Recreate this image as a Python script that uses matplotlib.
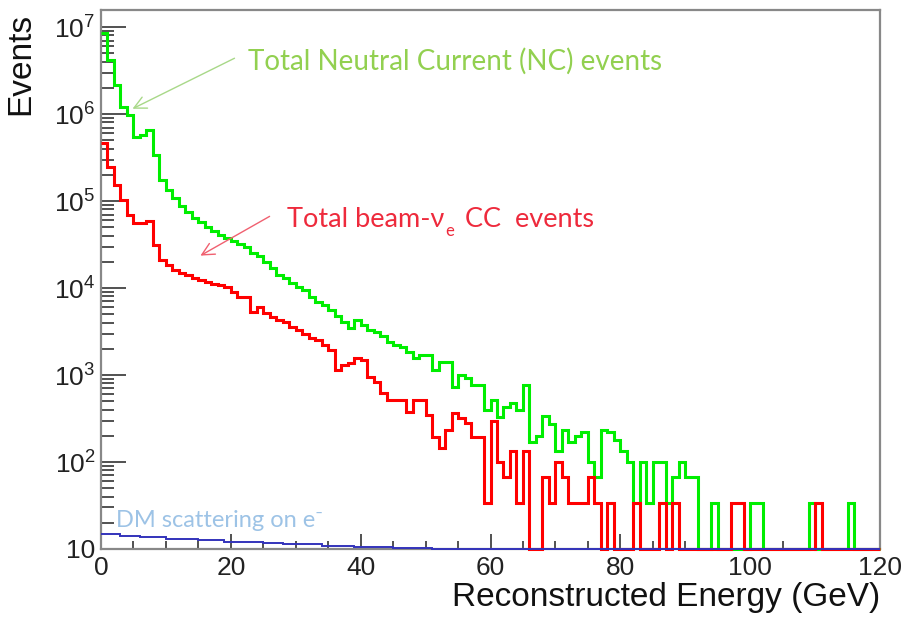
import numpy as np
import matplotlib
matplotlib.use('Agg')
import matplotlib.pyplot as plt
from matplotlib.ticker import FixedLocator, MultipleLocator, FuncFormatter, NullFormatter

# Reconstructed energy binning (1 GeV bins from 0 to 120 GeV)
energy_edges = np.arange(0, 121, 1)

# Total neutral current events per bin
nc_events = [
    8.5e6, 4.2e6, 2.15e6, 1.2e6, 9.7e5, 5.4e5, 5.7e5, 6.5e5, 3.4e5, 1.74e5,
    1.34e5, 1.08e5, 8.8e4, 7.5e4, 6.4e4, 5.7e4, 5.0e4, 4.5e4, 4.1e4, 3.8e4,
    3.5e4, 3.2e4, 2.96e4, 2.52e4, 2.33e4, 1.99e4, 1.70e4, 1.41e4, 1.30e4, 1.14e4,
    1.03e4, 9.5e3, 7.9e3, 6.9e3, 6.4e3, 5.6e3, 4.8e3, 4.1e3, 3.5e3, 4.3e3,
    3.8e3, 3.3e3, 3.1e3, 2.8e3, 2.4e3, 2.2e3, 2.1e3, 1.84e3, 1.57e3, 1.70e3,
    1.70e3, 1.14e3, 1.41e3, 1.41e3, 730, 1000, 920, 770, 770, 400,
    515, 330, 430, 475, 400, 770, 168, 200, 336, 270,
    135, 235, 168, 200, 220, 101, 67, 235, 220, 180,
    134, 101, 34, 101, 34, 101, 101, 34, 67, 101,
    67, 67, 0, 0, 34, 0, 0, 0, 0, 0,
    34, 34, 0, 0, 0, 0, 0, 0, 0, 34,
    0, 0, 0, 0, 0, 34, 0, 0, 0, 0,
]

# Total beam nu_e charged current events per bin
cc_events = [
    4.6e5, 2.46e5, 1.53e5, 1.03e5, 6.9e4, 5.6e4, 5.6e4, 5.9e4, 3.1e4, 2.1e4,
    1.84e4, 1.61e4, 1.49e4, 1.41e4, 1.30e4, 1.24e4, 1.17e4, 1.11e4, 1.08e4, 1.03e4,
    9.0e3, 7.9e3, 7.9e3, 5.3e3, 6.0e3, 5.2e3, 4.6e3, 4.3e3, 4.1e3, 3.6e3,
    3.3e3, 3.0e3, 2.66e3, 2.5e3, 2.2e3, 1.94e3, 1.14e3, 1.30e3, 1.37e3, 1.57e3,
    1.49e3, 950, 830, 620, 515, 515, 515, 375, 515, 515,
    345, 194, 145, 235, 365, 320, 280, 194, 194, 34,
    300, 101, 67, 135, 34, 135, 0, 0, 67, 34,
    101, 67, 34, 34, 34, 67, 34, 0, 34, 0,
    0, 0, 34, 0, 0, 0, 34, 0, 34, 0,
    0, 0, 0, 0, 0, 0, 0, 34, 34, 0,
    0, 0, 0, 0, 0, 0, 0, 0, 0, 0,
    34, 0, 0, 0, 0, 0, 0, 0, 0, 0,
]

# Dark matter scattering on electrons (coarse steps)
dm_edges = [0, 3, 6, 10, 15, 19, 25, 28, 34, 39, 45, 51, 55, 120]
dm_events = [14.9, 14.1, 13.6, 13.0, 12.6, 12.0, 11.6, 11.3, 10.9, 10.6, 10.3, 10.1, 10.0]

x_ticks = [0, 20, 40, 60, 80, 100, 120]
y_ticks = [1e1, 1e2, 1e3, 1e4, 1e5, 1e6, 1e7]
y_min, y_max = 10, 1.57e7

FIG_W, FIG_H = 906, 621

plt.rcParams['font.family'] = ['Liberation Sans', 'DejaVu Sans']
plt.rcParams['mathtext.fontset'] = 'custom'
plt.rcParams['mathtext.rm'] = 'Liberation Sans'

NOTE_FONT = ['Lato', 'DejaVu Sans']


def px(x, y):
    """Pixel position (from top-left) -> figure fraction."""
    return x / FIG_W, 1 - y / FIG_H


def log_label(v, pos):
    """ROOT style decade labels: plain 10 at the bottom, 10^n above."""
    n = int(round(np.log10(v)))
    if n == 1:
        return '10'
    return r'$\mathregular{10^{%d}}$' % n


def plot_spectrum():
    fig = plt.figure(figsize=(FIG_W / 100, FIG_H / 100), dpi=100)
    ax = fig.add_axes([101 / FIG_W, 1 - 549 / FIG_H, 779 / FIG_W, 539 / FIG_H])

    # Empty bins are pinned to the frame bottom, like ROOT does on a log axis
    nc = np.clip(np.asarray(nc_events, float), y_min, None)
    cc = np.clip(np.asarray(cc_events, float), y_min, None)

    ax.stairs(nc, energy_edges, baseline=None, color='#00ee00', lw=2.2, zorder=3, clip_on=False)
    ax.stairs(cc, energy_edges, baseline=None, color='#ff0000', lw=2.2, zorder=4, clip_on=False)
    ax.stairs(dm_events, dm_edges, baseline=None, color='#3333bb', lw=1.4, zorder=5, clip_on=False)

    ax.set_yscale('log')
    ax.set_xlim(0, 120)
    ax.set_ylim(y_min, y_max)

    # Axis ticks, drawn inside like in ROOT
    ax.xaxis.set_major_locator(FixedLocator(x_ticks))
    ax.xaxis.set_minor_locator(MultipleLocator(5))
    ax.yaxis.set_major_locator(FixedLocator(y_ticks))
    minor = [m * 10 ** d for d in range(1, 8) for m in range(2, 10)]
    ax.yaxis.set_minor_locator(FixedLocator(minor))
    ax.yaxis.set_major_formatter(FuncFormatter(log_label))
    ax.yaxis.set_minor_formatter(NullFormatter())
    ax.tick_params(axis='both', which='both', direction='in', color='#222222', width=1.1,
                   top=False, right=False, labelsize=19, labelcolor='#222222')
    ax.tick_params(axis='x', which='major', length=11, pad=5)
    ax.tick_params(axis='x', which='minor', length=5.5)
    ax.tick_params(axis='y', which='major', length=18, pad=4)
    ax.tick_params(axis='y', which='minor', length=9)

    for side in ['left', 'right', 'top', 'bottom']:
        ax.spines[side].set_color('#888888')
        ax.spines[side].set_linewidth(1.6)

    ax.set_xlabel('Reconstructed Energy (GeV)', fontsize=24, loc='right', color='#111111')
    ax.xaxis.set_label_coords(1.0, -0.062)
    ax.set_ylabel('Events', fontsize=24, loc='top', color='#111111')
    ax.yaxis.set_label_coords(-0.083, 0.995)

    # Annotation for the NC histogram
    fig.text(*px(248, 70), 'Total Neutral Current (NC) events', family=NOTE_FONT,
             fontsize=20, color='#92d050', va='baseline', ha='left')
    ax.annotate('', xy=px(130, 110), xytext=px(237, 57),
                xycoords='figure fraction', textcoords='figure fraction',
                arrowprops=dict(arrowstyle='->', color='#a8d888', lw=1.0, mutation_scale=22))

    # Annotation for the beam nu_e CC histogram, with a subscript e
    t1 = fig.text(*px(287, 227), 'Total beam-\u03bd', family=NOTE_FONT,
                  fontsize=19.5, color='#ee2a3c', va='baseline', ha='left')
    fig.canvas.draw()
    r = fig.canvas.get_renderer()
    x_end = t1.get_window_extent(r).x1
    t2 = fig.text(x_end / FIG_W + 0.001, 1 - 236 / FIG_H, 'e', family=NOTE_FONT,
                  fontsize=12, color='#ee2a3c', va='baseline', ha='left')
    x_end = t2.get_window_extent(r).x1
    fig.text(x_end / FIG_W + 0.012, 1 - 227 / FIG_H, 'CC  events', family=NOTE_FONT,
             fontsize=19.5, color='#ee2a3c', va='baseline', ha='left')
    ax.annotate('', xy=px(198, 257), xytext=px(272, 215),
                xycoords='figure fraction', textcoords='figure fraction',
                arrowprops=dict(arrowstyle='->', color='#f06070', lw=1.0, mutation_scale=22))

    # Label for the dark matter signal
    fig.text(*px(116, 527), 'DM scattering on e\u207b', family=NOTE_FONT,
             fontsize=17, color='#9dc3e6', va='baseline', ha='left')

    fig.savefig('out.png', dpi=100)


if __name__ == '__main__':
    plot_spectrum()
